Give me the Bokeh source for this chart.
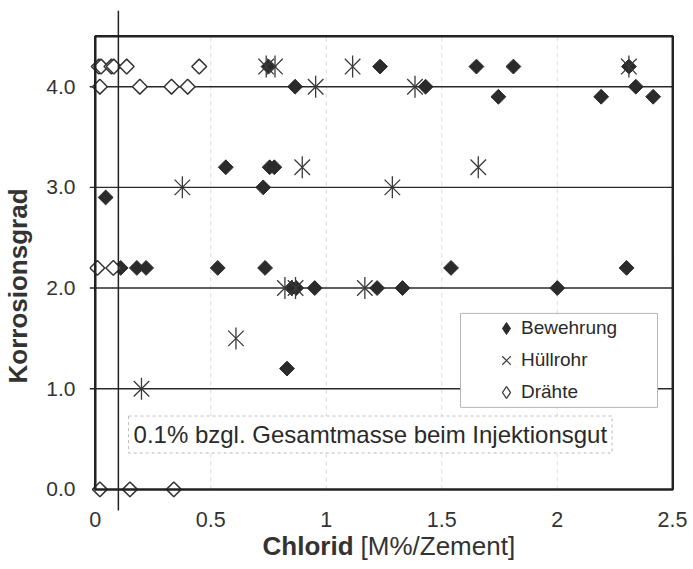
from math import pi, nan
from bokeh.plotting import figure
from bokeh.models import (Range1d, FixedTicker, PrintfTickFormatter, BoxAnnotation,
                          Label, Legend, LegendItem, ColumnDataSource)
from bokeh.embed import file_html
from bokeh.resources import INLINE

# ---- data ----
bew_x = [0.045, 0.11, 0.18, 0.22, 0.53, 0.735, 1.54, 2.30,
         0.565, 0.755, 0.775, 0.727,
         0.75, 1.233, 1.65, 1.81, 2.31,
         0.865, 1.43, 2.34, 1.745, 2.19, 2.415,
         0.85, 0.87, 0.95, 1.22, 1.33, 2.0,
         0.83]
bew_y = [2.9, 2.2, 2.2, 2.2, 2.2, 2.2, 2.2, 2.2,
         3.2, 3.2, 3.2, 3.0,
         4.2, 4.2, 4.2, 4.2, 4.2,
         4.0, 4.0, 4.0, 3.9, 3.9, 3.9,
         2.0, 2.0, 2.0, 2.0, 2.0, 2.0,
         1.2]

hul_x = [0.74, 0.778, 1.114, 2.31,
         0.954, 1.384,
         0.896, 1.658,
         0.377, 1.286,
         0.821, 0.867, 1.167,
         0.609,
         0.2]
hul_y = [4.2, 4.2, 4.2, 4.2,
         4.0, 4.0,
         3.2, 3.2,
         3.0, 3.0,
         2.0, 2.0, 2.0,
         1.5,
         1.0]

dra_x = [0.015, 0.025, 0.07, 0.08, 0.136, 0.45,
         0.02, 0.193, 0.33, 0.40,
         0.009, 0.078,
         0.02, 0.15, 0.34]
dra_y = [4.2, 4.2, 4.2, 4.2, 4.2, 4.2,
         4.0, 4.0, 4.0, 4.0,
         2.2, 2.2,
         0.0, 0.0, 0.0]

series_names = ["Bewehrung", "Hüllrohr", "Drähte"]
x_ticks = [0, 0.5, 1, 1.5, 2, 2.5]
x_tick_labels = ["0", "0.5", "1", "1.5", "2", "2.5"]
y_ticks = [0, 1, 2, 3, 4]
x_lim = (0, 2.5)
y_lim = (0, 4.5)
limit_x = 0.1
note_text = "0.1% bzgl. Gesamtmasse beim Injektionsgut"
y_title = "Korrosionsgrad"
x_title_bold = "Chlorid"
x_title_rest = "[M%/Zement]"

FONT = "Liberation Sans"
INK = "#2a2a2a"

Y_TOP = 4.757
Y_BOTTOM = -0.7164
X_LEFT = -0.025
LIMIT_LINE_BOTTOM = -0.21

p = figure(frame_width=598, frame_height=551,
           x_range=Range1d(X_LEFT, 2.5637), y_range=Range1d(Y_BOTTOM, Y_TOP),
           output_backend="svg", toolbar_location=None,
           min_border_left=83, min_border_right=0, min_border_top=10, min_border_bottom=0)
p.outline_line_color = None
p.background_fill_color = "white"
p.grid.visible = False

# grid lines, limited to the plot box
vg = x_ticks[1:-1]
p.segment(x0=vg, y0=[y_lim[0]] * len(vg), x1=vg, y1=[y_lim[1]] * len(vg),
          line_color="#dadada", line_dash="4 4", line_width=1)
hg = y_ticks[1:]
p.segment(x0=[X_LEFT] * len(hg), y0=hg, x1=[x_lim[1]] * len(hg), y1=hg,
          line_color=INK, line_width=1.4)

# axes
for ax in (p.xaxis[0], p.yaxis[0]):
    ax.axis_line_color = None
    ax.major_tick_line_color = None
    ax.minor_tick_line_color = None
    ax.major_tick_out = 0
    ax.major_tick_in = 0
    ax.major_label_text_font = FONT
    ax.major_label_text_color = "#333333"
p.xaxis.fixed_location = y_lim[0]
p.xaxis.ticker = FixedTicker(ticks=x_ticks)
p.xaxis.major_label_overrides = dict(zip(x_ticks, x_tick_labels))
p.xaxis.major_label_text_font_size = "21.5px"
p.xaxis.major_label_standoff = 23
p.yaxis.ticker = FixedTicker(ticks=y_ticks)
p.yaxis.bounds = y_lim
p.yaxis.formatter = PrintfTickFormatter(format="%.1f")
p.yaxis.major_label_text_font_size = "21px"
p.yaxis.major_label_standoff = 14
p.yaxis.axis_label = y_title
p.yaxis.axis_label_text_font = FONT
p.yaxis.axis_label_text_font_size = "26px"
p.yaxis.axis_label_text_font_style = "bold"
p.yaxis.axis_label_text_color = "#333333"
p.yaxis.axis_label_standoff = 10

# series
src_b = ColumnDataSource(dict(x=bew_x, y=bew_y))
src_h = ColumnDataSource(dict(x=hul_x, y=hul_y))
src_d = ColumnDataSource(dict(x=dra_x, y=dra_y))

r_b = p.scatter("x", "y", source=src_b, marker="square", angle=pi / 4, size=10.5,
                fill_color="#2b2b2b", line_color="#2b2b2b")
r_hx = p.scatter("x", "y", source=src_h, marker="x", size=22,
                 line_color="#3a3a3a", line_width=1.3)
r_hv = p.scatter("x", "y", source=src_h, marker="dash", angle=pi / 2, size=22,
                 line_color="#3a3a3a", line_width=1.3)
r_d = p.scatter("x", "y", source=src_d, marker="square", angle=pi / 4, size=10.5,
                fill_color="white", line_color="#333333", line_width=1.5)

# legend proxies (legend glyphs ignore angles, so use diamond markers there)
leg_b = p.scatter([nan], [nan], marker="diamond", size=12,
                  fill_color="#2b2b2b", line_color="#2b2b2b")
leg_h = p.scatter([nan], [nan], marker="x", size=12, line_color="#3a3a3a", line_width=1.2)
leg_d = p.scatter([nan], [nan], marker="diamond", size=12,
                  fill_color="white", line_color="#333333", line_width=1.3)

# plot box and 0.1 % limit line
p.add_layout(BoxAnnotation(left=x_lim[0], right=x_lim[1], bottom=y_lim[0], top=y_lim[1],
                           fill_alpha=0, line_color="#222222", line_alpha=1, line_width=2.5))
p.segment(x0=[limit_x], y0=[LIMIT_LINE_BOTTOM], x1=[limit_x], y1=[Y_TOP],
          line_color="#222222", line_width=1.5)

# note label
p.add_layout(Label(x=0.144, y=0.545, text=note_text, text_baseline="middle",
                   text_font=FONT, text_font_size="24px", text_color="#2a2a2a",
                   background_fill_color="white", border_line_color="#bbbbbb",
                   border_line_dash="3 3", padding=5))

# x-axis title (bold + normal part)
p.add_layout(Label(x=1.131, y=-0.567, text=x_title_bold, text_align="right", x_offset=-3,
                   text_baseline="middle", text_font=FONT, text_font_size="26px",
                   text_font_style="bold", text_color="#333333"))
p.add_layout(Label(x=1.131, y=-0.567, text=x_title_rest, text_align="left", x_offset=4,
                   text_baseline="middle", text_font=FONT, text_font_size="26px",
                   text_color="#333333"))

# legend frame + legend
p.add_layout(BoxAnnotation(left=1.581, right=2.434, bottom=0.815, top=1.748,
                           fill_color="white", fill_alpha=1,
                           line_color="#b5b5b5", line_alpha=1, line_width=1))
legend = Legend(items=[LegendItem(label=series_names[0], renderers=[leg_b]),
                       LegendItem(label=series_names[1], renderers=[leg_h]),
                       LegendItem(label=series_names[2], renderers=[leg_d])],
                location=(400, 152), padding=2, spacing=2,
                glyph_width=30, glyph_height=30, label_height=30, label_standoff=0,
                label_text_font=FONT, label_text_font_size="19px",
                label_text_color="#2a2a2a",
                border_line_alpha=0, background_fill_alpha=0)
p.add_layout(legend)

open("out.html", "w").write(file_html(p, INLINE))
